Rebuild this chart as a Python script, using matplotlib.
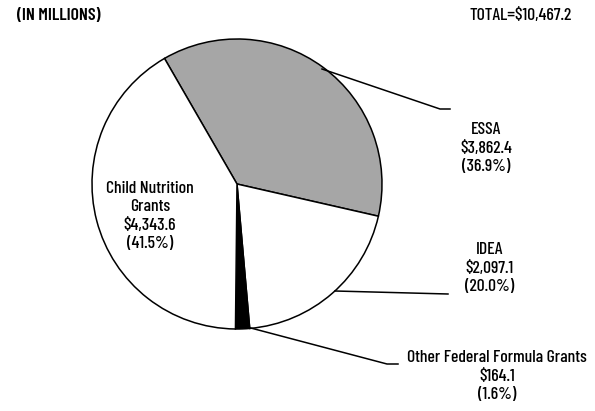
import matplotlib
matplotlib.use('Agg')
import matplotlib.pyplot as plt

plt.rcParams['font.family'] = ['Barlow Condensed', 'DejaVu Sans Condensed', 'DejaVu Sans']

labels = ['ESSA', 'IDEA', 'Other Federal Formula Grants', 'Child Nutrition\nGrants']
amounts = [3862.4, 2097.1, 164.1, 4343.6]
shares = ['36.9%', '20.0%', '1.6%', '41.5%']
colors = ['#a6a6a6', 'white', 'black', 'white']
total = 10467.2

fig = plt.figure(figsize=(5.95, 4.11), dpi=100)
ax = fig.add_axes([0, 0, 1, 1])

H = 411
cx, cy, r = 237, H - 184, 145
ax.pie(amounts, colors=colors, startangle=120, counterclock=False,
       center=(cx, cy), radius=r, frame=True,
       wedgeprops=dict(edgecolor='black', linewidth=1.1))
ax.set_xlim(0, 595)
ax.set_ylim(0, 411)
ax.set_aspect('equal')
ax.axis('off')

fs = 12.7
ax.text(17, H - 16, '(IN MILLIONS)', fontsize=fs, fontweight=600, va='center', ha='left')
ax.text(572, H - 16, f'TOTAL=${total:,.1f}', fontsize=fs, fontweight=500, va='center', ha='right')

def lbl(x, y, i):
    txt = f'{labels[i]}\n${amounts[i]:,.1f}\n({shares[i]})'
    ax.text(x, H - y, txt, fontsize=fs, fontweight=500, ha='center', va='center', linespacing=1.3)

lbl(486, 148, 0)
lbl(490, 268, 1)
lbl(497, 376, 2)
lbl(150, 216, 3)

# leader lines
ax.plot([322, 440, 450], [H - 69, H - 109, H - 109], color='black', lw=1.1)
ax.plot([335, 448], [H - 291, H - 294], color='black', lw=1.1)
ax.plot([247, 387, 398], [H - 327, H - 364, H - 364], color='black', lw=1.1)

fig.savefig('out.png', dpi=100)
